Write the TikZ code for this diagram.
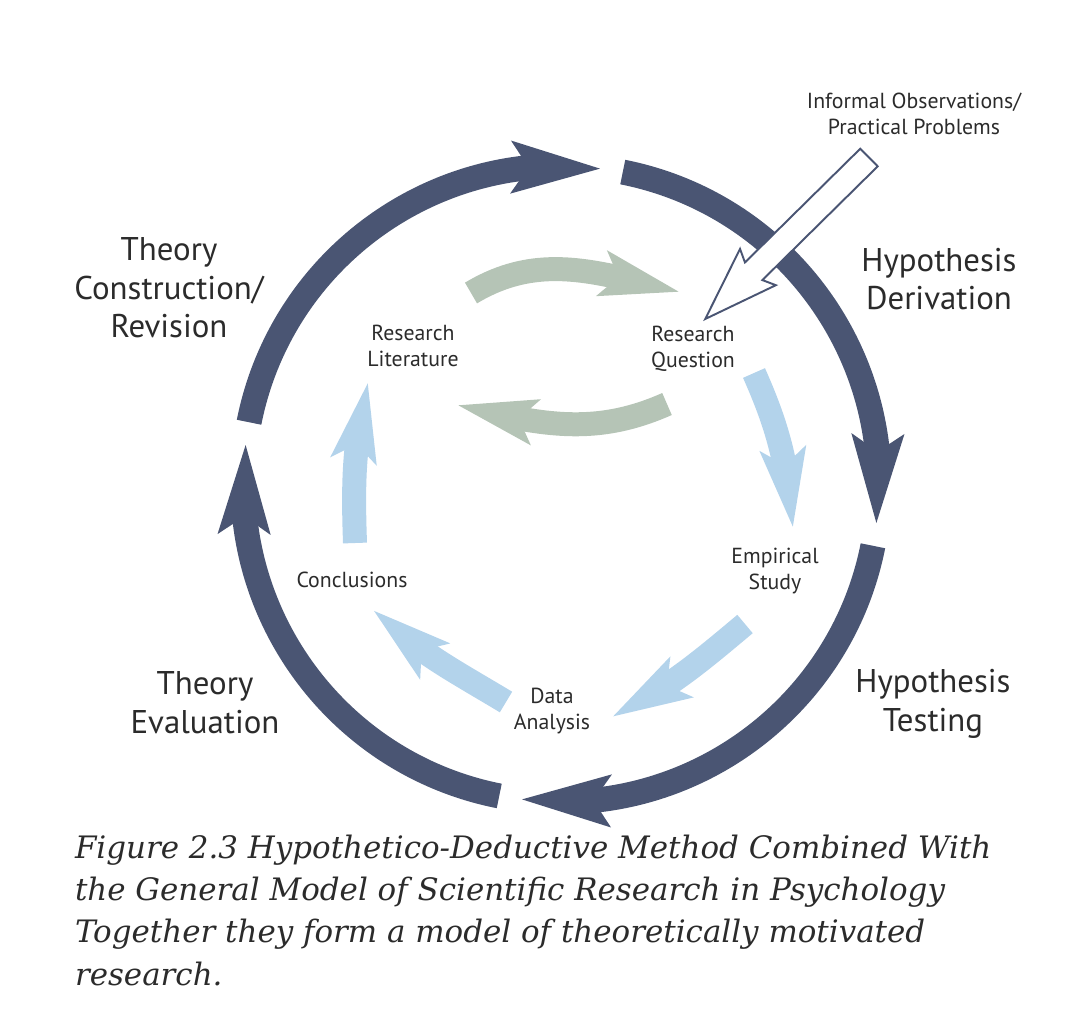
\documentclass[tikz,border=0pt]{standalone}
\usepackage{fontspec}
\setmainfont{PT Sans}
\newfontfamily\capfont{DejaVu Serif}
\usetikzlibrary{arrows.meta,bending}
\definecolor{ringblue}{HTML}{4A5573}
\definecolor{litgreen}{HTML}{B5C4B6}
\definecolor{stepblue}{HTML}{B3D3EB}
\definecolor{labelgray}{HTML}{2B2B2B}
\begin{document}
\begin{tikzpicture}[x=0.02cm,y=0.02cm,inner sep=0pt,outer sep=0pt,
ringarrow/.style={draw=ringblue,line width=0.5cm,-{Stealth[length=1.76cm,width=0.98cm,inset=0.3cm]}},
innerarrow/.style={line width=0.48cm,-{Stealth[length=1.56cm,width=0.88cm,inset=0.3cm]}},
obsarrow/.style={draw=ringblue,fill=white,line width=1.1pt,line join=miter},
stagelabel/.style={align=center,text=labelgray,font=\fontsize{18.7}{22}\selectfont},
boxlabel/.style={align=center,text=labelgray,font=\fontsize{12.4}{14.6}\selectfont}]
\useasboundingbox (0,0) rectangle (1075,-1015);
% outer cycle
\begin{scope}[shift={(561,-484)}]
\foreach \a/\b in {168.8/82.6,78.8/-7.4,-11.2/-97.4,-101.2/-187.4}
  \draw[ringarrow] (\a:318) arc[start angle=\a,end angle=\b,radius=318];
\end{scope}
% labels
\draw (169,-288) node[stagelabel] (construct) {Theory\\Construction/\\Revision};
\draw (939,-279) node[stagelabel] (derive) {Hypothesis\\Derivation};
\draw (933,-704) node[stagelabel] (testing) {Hypothesis\\Testing};
\draw (205,-703) node[stagelabel] (evaluate) {Theory\\Evaluation};
\draw (914,-114) node[boxlabel] (obs) {Informal Observations/\\Practical Problems};
\draw (413,-346) node[boxlabel] (lit) {Research\\Literature};
\draw (693,-349) node[boxlabel] (rq) {Research\\Question};
\draw (775,-571) node[boxlabel] (study) {Empirical\\Study};
\draw (552,-711) node[boxlabel] (analysis) {Data\\Analysis};
\draw (352,-580) node[boxlabel] (concl) {Conclusions};
% inner arrows
\coordinate (lit-out) at (471,-293);
\coordinate (rq-in) at (680,-292);
\coordinate (rq-back) at (667,-404);
\coordinate (lit-in) at (457,-405);
\coordinate (rq-out) at (754,-373);
\coordinate (study-in) at (793,-528);
\coordinate (study-out) at (745,-624);
\coordinate (analysis-in) at (612,-717);
\coordinate (analysis-out) at (506,-702);
\coordinate (concl-in) at (373,-610);
\coordinate (concl-out) at (355,-543);
\coordinate (lit-up) at (368,-382);
\draw[innerarrow,litgreen] (lit-out) to[out=31,in=167] (rq-in);
\draw[innerarrow,litgreen] (rq-back) to[out=204,in=-13] (lit-in);
\draw[innerarrow,stepblue] (rq-out) to[out=-66,in=95] (study-in);
\draw[innerarrow,stepblue] (study-out) to[out=220,in=27] (analysis-in);
\draw[innerarrow,stepblue] (analysis-out) to[out=149,in=-43] (concl-in);
\draw[innerarrow,stepblue] (concl-out) to[out=92,in=257] (lit-up);
% informal observations arrow
\begin{scope}[shift={(869,-157.5)},rotate=224.6]
\draw[obsarrow] (0,12.4) -- (162,12.4) -- (156,25.5) -- (230,0) -- (156,-25.5) -- (162,-12.4) -- (0,-12.4) -- cycle;
\end{scope}
% caption
\draw (75,-835) node[anchor=north west,align=left,text=labelgray,font=\capfont\itshape\fontsize{17.6}{24}\selectfont] (caption)
  {Figure 2.3 Hypothetico-Deductive Method Combined With\\the General Model of Scientific Research in Psychology\\Together they form a model of theoretically motivated\\research.};
\end{tikzpicture}
\end{document}
